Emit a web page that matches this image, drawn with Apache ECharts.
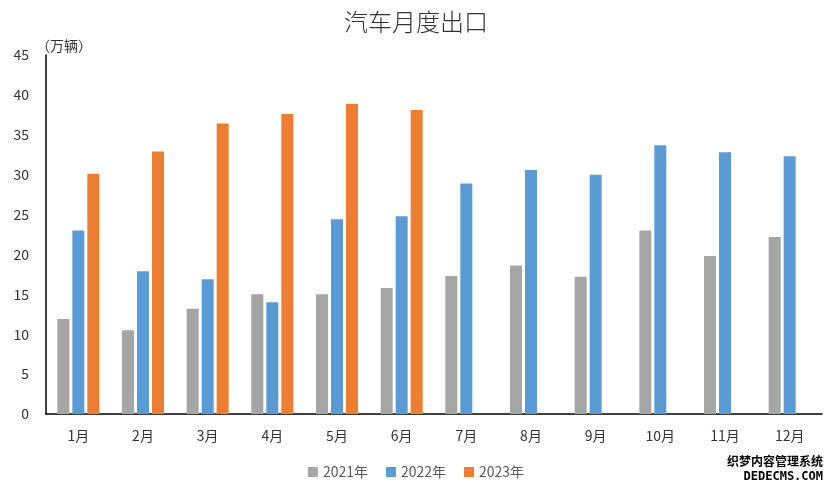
<!DOCTYPE html>
<html><head><meta charset="utf-8">
<script src="https://cdn.jsdelivr.net/npm/echarts@6/dist/echarts.min.js"></script>
<style>html,body{margin:0;padding:0;background:#fff}#c{width:832px;height:490px}</style>
</head><body><div id="c"></div>
<script>
const categories = ['1月','2月','3月','4月','5月','6月','7月','8月','9月','10月','11月','12月'];
const s2021 = [11.9, 10.5, 13.2, 15.0, 15.0, 15.8, 17.3, 18.6, 17.2, 23.0, 19.8, 22.2];
const s2022 = [23.0, 17.9, 16.9, 14.0, 24.4, 24.8, 28.9, 30.6, 30.0, 33.7, 32.8, 32.3];
const s2023 = [30.1, 32.9, 36.4, 37.6, 38.9, 38.1, null, null, null, null, null, null];
const seriesNames = ['2021年','2022年','2023年'];
const colors = ['#A5A5A5','#5B9BD5','#ED7D31'];
const font = '"Noto Sans CJK SC", "Noto Sans", sans-serif';
const chart = echarts.init(document.getElementById('c'));
chart.setOption({
  animation:false,
  title:{text:'汽车月度出口', left:'center', top:5, textStyle:{fontFamily:font, fontSize:24, fontWeight:300, color:'#333'}},
  legend:{bottom:6, left:'center', itemWidth:10, itemHeight:10, itemGap:18, icon:'rect',
    textStyle:{fontFamily:font, fontSize:14, color:'#595959'}},
  grid:{left:46, right:10, top:55, bottom:76},
  xAxis:{type:'category', data:categories,
    axisLine:{lineStyle:{color:'#000', width:1.5}}, axisTick:{show:false},
    axisLabel:{fontFamily:font, fontSize:14, color:'#333', margin:15}},
  yAxis:{type:'value', min:0, max:45, interval:5, name:'（万辆）', nameGap:2,
    nameTextStyle:{fontFamily:font, fontSize:14, color:'#333', align:'center', padding:[0,0,0,36]},
    splitLine:{show:false}, axisLine:{show:true, lineStyle:{color:'#000', width:1.5}}, axisTick:{show:false},
    axisLabel:{fontFamily:font, fontSize:14, color:'#333', margin:17}},
  series:[
    {name:seriesNames[0], type:'bar', data:s2021, itemStyle:{color:colors[0]}, barWidth:12, barGap:'25%'},
    {name:seriesNames[1], type:'bar', data:s2022, itemStyle:{color:colors[1]}, barWidth:12, barGap:'25%'},
    {name:seriesNames[2], type:'bar', data:s2023, itemStyle:{color:colors[2]}, barWidth:12, barGap:'25%'}
  ],
  graphic:[
    {type:'text', right:8, bottom:22, style:{text:'织梦内容管理系统', font:'bold 12px "Noto Sans CJK SC"', fill:'#000', stroke:'#fff', lineWidth:2}},
    {type:'text', right:8, bottom:6, style:{text:'DEDECMS.COM', font:'bold 12px "DejaVu Sans Mono"', fill:'#000', stroke:'#fff', lineWidth:2}}
  ]
});
</script></body></html>
